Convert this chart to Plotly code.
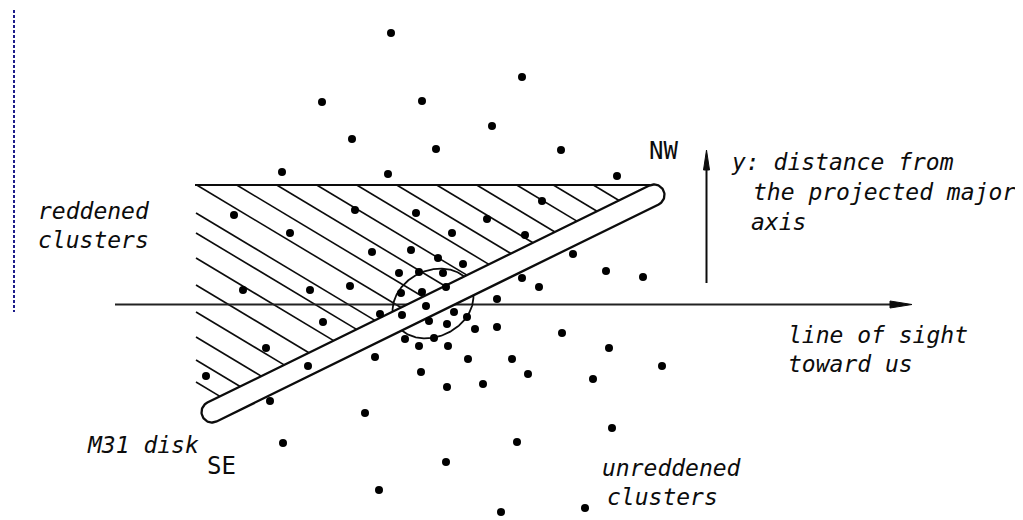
import numpy as np
import plotly.graph_objects as go

W, H = 1023, 520
OFF = 8  # page margin of the browser body

# ---- data: cluster positions (diagram coordinates, y grows downward) ----
cluster_x = [391, 522, 322, 422, 492, 352, 436, 561, 282, 388, 617,
             234, 355, 416, 487, 542, 290, 452, 525, 372, 411, 438, 463, 573, 606, 643,
             399, 419, 443, 243, 310, 350, 446, 522, 539, 401, 422, 497, 426, 380, 402,
             323, 454, 467, 429, 447, 475, 497, 562, 609, 405, 419, 434, 448, 266, 308,
             375, 468, 512, 662, 206, 421, 528, 593, 447, 483, 270, 365, 612,
             283, 517, 446, 379, 501, 585]
cluster_y = [33, 77, 102, 101, 126, 139, 149, 150, 172, 174, 176,
             215, 210, 213, 219, 201, 233, 233, 235, 252, 250, 258, 264, 254, 271, 277,
             273, 272, 273, 290, 290, 286, 287, 278, 287, 293, 292, 299, 306, 314, 315,
             322, 312, 317, 321, 324, 329, 327, 333, 348, 339, 346, 338, 346, 348, 366,
             357, 359, 359, 366, 376, 372, 374, 379, 387, 384, 401, 413, 428,
             443, 442, 462, 490, 512, 508]

# M31 disk: centre-line end points and half thickness
disk_x = [212, 654]
disk_y = [412, 195]
disk_half = 10.5

# central bulge (ellipse in the disk frame)
bulge_cx, bulge_cy = 433, 303.5
bulge_a, bulge_b = 42, 33

# hatched (reddened) region
hatch_top_y = 185
hatch_left_x = 196
hatch_top_starts = [196.7, 236.7, 276.7, 316.7, 356.7, 396.7, 436.7, 476.7, 516.7, 553.3, 593.3]
hatch_left_starts = [213, 233, 258, 285, 312, 337, 360, 382]
hatch_slope = 0.6

# axes of the sketch
los_x = [115, 912]
los_y = 304.5
yax_x = 706.5
yax_y = [283, 150]

# ---- geometry ----
P1 = np.array([disk_x[0], disk_y[0]], float)
P2 = np.array([disk_x[1], disk_y[1]], float)
d = (P2 - P1) / np.linalg.norm(P2 - P1)
n = np.array([d[1], -d[0]])  # upper normal (screen up-left)
phi = np.arctan2(d[1], d[0])

a1 = np.linspace(phi - np.pi / 2, phi + np.pi / 2, 40)
a2 = np.linspace(phi + np.pi / 2, phi + 3 * np.pi / 2, 40)
cap2 = P2[:, None] + disk_half * np.vstack([np.cos(a1), np.sin(a1)])
cap1 = P1[:, None] + disk_half * np.vstack([np.cos(a2), np.sin(a2)])
cx = np.concatenate([cap2[0], cap1[0], cap2[0][:1]])
cy = np.concatenate([cap2[1], cap1[1], cap2[1][:1]])

Q = P1 + disk_half * n  # point on the upper edge


def hit_upper(x0, y0, dx, dy):
    A = np.array([[dx, -d[0]], [dy, -d[1]]])
    b = Q - np.array([x0, y0])
    t, s = np.linalg.solve(A, b)
    return x0 + t * dx, y0 + t * dy


hx, hy = [], []
for x0 in hatch_top_starts:
    ex, ey = hit_upper(x0, hatch_top_y, 1.0, hatch_slope)
    hx += [x0, ex, None]
    hy += [hatch_top_y, ey, None]
for y0 in hatch_left_starts:
    ex, ey = hit_upper(hatch_left_x, y0, 1.0, hatch_slope)
    hx += [hatch_left_x, ex, None]
    hy += [y0, ey, None]

tx_end, ty_end = hit_upper(195, hatch_top_y, 1.0, 0.0)

t = np.linspace(0, 2 * np.pi, 400)
uu = bulge_a * np.cos(t)
vv = bulge_b * np.sin(t)
bx = bulge_cx + uu * d[0] + vv * n[0]
by = bulge_cy + uu * d[1] + vv * n[1]
bux = np.where(vv > disk_half, bx, np.nan)
buy = np.where(vv > disk_half, by, np.nan)
blx = np.where(vv < -disk_half, bx, np.nan)
bly = np.where(vv < -disk_half, by, np.nan)
bulx = [None if np.isnan(v) else v for v in np.concatenate([bux, [np.nan], blx])]
buly = [None if np.isnan(v) else v for v in np.concatenate([buy, [np.nan], bly])]

ink = "#0c0c0c"
fig = go.Figure()

fig.add_trace(go.Scatter(x=[14, 14], y=[5, 312], mode="lines",
                         line=dict(color="#1c1c8a", width=2, dash="3px,2px"), hoverinfo="skip"))
fig.add_trace(go.Scatter(x=hx, y=hy, mode="lines", line=dict(color=ink, width=1.6),
                         hoverinfo="skip"))
fig.add_trace(go.Scatter(x=[195, tx_end], y=[hatch_top_y, hatch_top_y], mode="lines",
                         line=dict(color=ink, width=2.2), hoverinfo="skip"))
fig.add_trace(go.Scatter(x=[los_x[0], los_x[1] - 18], y=[los_y, los_y], mode="lines",
                         line=dict(color="#222222", width=2), hoverinfo="skip"))
fig.add_trace(go.Scatter(x=[los_x[1] - 22, los_x[1], los_x[1] - 22, los_x[1] - 22],
                         y=[los_y - 3.5, los_y, los_y + 3.5, los_y - 3.5],
                         mode="lines", fill="toself", fillcolor=ink,
                         line=dict(color=ink, width=1), hoverinfo="skip"))
fig.add_trace(go.Scatter(x=[yax_x, yax_x], y=[yax_y[0], yax_y[1] + 16], mode="lines",
                         line=dict(color=ink, width=2), hoverinfo="skip"))
fig.add_trace(go.Scatter(x=[yax_x - 3, yax_x, yax_x + 3, yax_x - 3],
                         y=[yax_y[1] + 20, yax_y[1], yax_y[1] + 20, yax_y[1] + 20],
                         mode="lines", fill="toself", fillcolor=ink,
                         line=dict(color=ink, width=1), hoverinfo="skip"))
fig.add_trace(go.Scatter(x=cx, y=cy, mode="lines", fill="toself", fillcolor="white",
                         line=dict(color=ink, width=2.3), hoverinfo="skip"))
fig.add_trace(go.Scatter(x=bulx, y=buly, mode="lines", line=dict(color=ink, width=1.8),
                         hoverinfo="skip"))
fig.add_trace(go.Scatter(x=cluster_x, y=cluster_y, mode="markers",
                         marker=dict(color="black", size=8), hoverinfo="skip"))

mono = "DejaVu Sans Mono"
labels = [
    ("<i>reddened</i>", 36, 211, 23),
    ("<i>clusters</i>", 36, 240, 23),
    ("<i>y: distance from</i>", 729, 162, 23),
    ("<i>the projected major</i>", 751, 192, 23),
    ("<i>axis</i>", 749, 222, 23),
    ("<i>line of sight</i>", 786, 335, 23),
    ("<i>toward us</i>", 786, 364, 23),
    ("<i>M31 disk</i>", 85, 445, 23),
    ("<i>unreddened</i>", 600, 468, 23),
    ("<i>clusters</i>", 605, 497, 23),
    ("NW", 647, 151, 24),
    ("SE", 205, 466, 24),
]
for txt, x, y, s in labels:
    fig.add_annotation(x=x, y=y, text=txt, showarrow=False, xanchor="left", yanchor="middle",
                       font=dict(family=mono, size=s, color=ink), xref="x", yref="y")

fig.update_layout(width=W, height=H, margin=dict(l=0, r=0, t=0, b=0),
                  paper_bgcolor="white", plot_bgcolor="white", showlegend=False,
                  xaxis=dict(range=[OFF, W + OFF], visible=False, fixedrange=True),
                  yaxis=dict(range=[H + OFF, OFF], visible=False, fixedrange=True))
fig.write_html("out.html")
